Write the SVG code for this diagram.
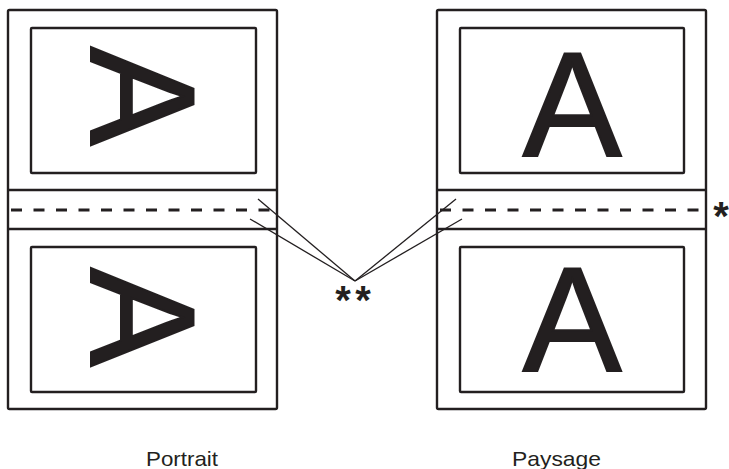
<svg xmlns="http://www.w3.org/2000/svg" width="729" height="469" viewBox="0 0 729 469">
<style>
.frame{fill:none;stroke:#231f20;stroke-width:2.4}
.rule{stroke:#231f20;stroke-width:2.4}
.dash{stroke:#231f20;stroke-width:3;stroke-dasharray:11 11.5}
.big{font-family:"Liberation Sans",Arial,sans-serif;font-size:148px;fill:#231f20;stroke:#231f20;stroke-width:2;text-anchor:middle}
.lbl{font-family:"Liberation Sans",Arial,sans-serif;font-size:21px;fill:#231f20}
.ast{font-family:"Liberation Sans",Arial,sans-serif;font-weight:bold;font-size:40px;fill:#231f20;text-anchor:middle}
.conn{stroke:#231f20;stroke-width:1.3;fill:none}
</style>
<rect width="729" height="469" fill="#fff"/>
<g id="portrait">
<rect class="frame" x="8" y="10" width="269" height="399" rx="1.5"/>
<line class="rule" x1="8" y1="190" x2="277" y2="190"/>
<line class="rule" x1="8" y1="229" x2="277" y2="229"/>
<line class="dash" x1="11" y1="210" x2="277" y2="210"/>
<rect class="frame" x="31" y="28" width="225" height="145" rx="1"/>
<rect class="frame" x="31" y="247" width="225" height="145" rx="1"/>
<text class="big" transform="translate(91,96) rotate(90)">A</text>
<text class="big" transform="translate(91,317) rotate(90)">A</text>
<text class="lbl" x="146" y="466" textLength="72" lengthAdjust="spacingAndGlyphs">Portrait</text>
</g>
<g id="paysage">
<rect class="frame" x="437" y="10" width="269" height="399" rx="1.5"/>
<line class="rule" x1="437" y1="190" x2="706" y2="190"/>
<line class="rule" x1="437" y1="229" x2="706" y2="229"/>
<line class="dash" x1="440" y1="210" x2="706" y2="210"/>
<rect class="frame" x="460" y="28" width="224" height="145" rx="1"/>
<rect class="frame" x="460" y="247" width="224" height="145" rx="1"/>
<text class="big" x="572" y="156">A</text>
<text class="big" x="572" y="371">A</text>
<text class="lbl" x="512" y="466" textLength="89" lengthAdjust="spacingAndGlyphs">Paysage</text>
</g>
<g id="marks">
<text class="ast" x="343" y="314">*</text>
<text class="ast" x="363" y="314">*</text>
<text class="ast" x="721" y="230">*</text>
</g>
<g id="connectors">
<line class="conn" x1="258" y1="199" x2="355" y2="281"/>
<line class="conn" x1="250" y1="219" x2="355" y2="281"/>
<line class="conn" x1="456" y1="199" x2="355" y2="281"/>
<line class="conn" x1="462" y1="219" x2="355" y2="281"/>
</g>
</svg>
